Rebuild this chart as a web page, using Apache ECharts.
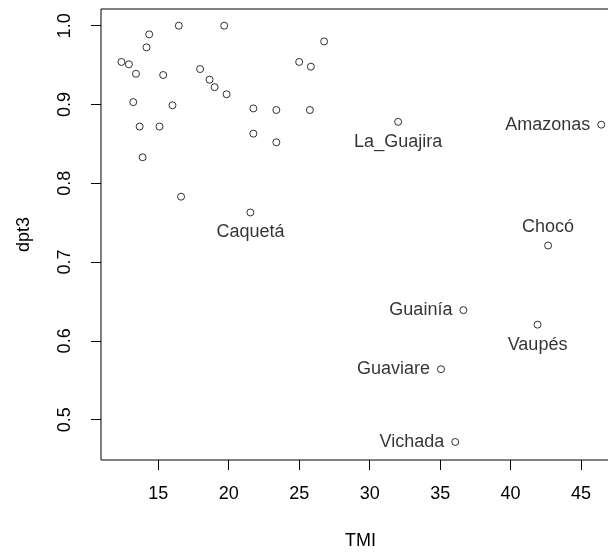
<!DOCTYPE html>
<html>
<head>
<meta charset="utf-8">
<script src="https://cdn.jsdelivr.net/npm/echarts@6/dist/echarts.min.js"></script>
<style>
html,body{margin:0;padding:0;background:#fff;}
#chart{width:608px;height:555px;}
</style>
</head>
<body>
<div id="chart"></div>
<script>
// Data
const tmi  = [16.46, 19.68, 14.36, 14.17, 26.77, 12.39, 12.92, 13.42, 15.35, 25.00,
              25.83, 17.97, 18.64, 19.00, 19.85, 13.23, 16.01, 21.75, 23.38, 25.76,
              13.68, 15.09, 21.75, 23.38, 13.89, 16.62, 21.54,
              32.02, 46.43, 42.66, 36.65, 41.91, 35.06, 36.07];
const dpt3 = [1.000, 1.000, 0.989, 0.9725, 0.980, 0.954, 0.951, 0.939, 0.9374, 0.954,
              0.948, 0.945, 0.9315, 0.922, 0.913, 0.903, 0.899, 0.895, 0.893, 0.893,
              0.872, 0.872, 0.863, 0.852, 0.833, 0.783, 0.763,
              0.878, 0.8744, 0.721, 0.639, 0.6206, 0.564, 0.4717];
const dept = ['', '', '', '', '', '', '', '', '', '',
              '', '', '', '', '', '', '', '', '', '',
              '', '', '', '', '', '', 'Caquetá',
              'La_Guajira', 'Amazonas', 'Chocó', 'Guainía', 'Vaupés', 'Guaviare', 'Vichada'];
const xTicks = [15, 20, 25, 30, 35, 40, 45];
const yTicks = [0.5, 0.6, 0.7, 0.8, 0.9, 1.0];
const xTitle = 'TMI';
const yTitle = 'dpt3';

// label placement (style, not data)
const labelPlace = {
  'Caquetá': 'bottom', 'La_Guajira': 'bottom', 'Amazonas': 'left', 'Chocó': 'top',
  'Guainía': 'left', 'Vaupés': 'bottom', 'Guaviare': 'left', 'Vichada': 'left'
};

const FONT = 'Liberation Sans, Arial, sans-serif';
const points = tmi.map((x, i) => {
  const n = dept[i];
  const p = { value: [x, dpt3[i]], name: n };
  if (n) {
    const pos = labelPlace[n];
    p.label = { show: true, position: pos, distance: pos === 'left' ? 7 : (pos === 'bottom' ? 7 : 5),
                formatter: n, color: '#000', fontFamily: FONT, fontSize: 18 };
  }
  return p;
});

const chart = echarts.init(document.getElementById('chart'), null, { renderer: 'canvas' });
chart.setOption({
  animation: false,
  backgroundColor: '#fff',
  grid: { left: 101, top: 9, width: 519, height: 451, containLabel: false, outerBoundsMode: 'none',
          show: true, borderColor: '#000', borderWidth: 1, backgroundColor: 'transparent' },
  xAxis: {
    type: 'value', min: 10.94, max: 47.76,
    name: xTitle, nameLocation: 'middle', nameGap: 72,
    nameTextStyle: { fontFamily: FONT, fontSize: 18, color: '#000' },
    splitLine: { show: false },
    axisLine: { show: false },
    axisTick: { show: true, inside: false, length: 10, lineStyle: { color: '#000' }, customValues: xTicks },
    axisLabel: { customValues: xTicks, margin: 25, fontFamily: FONT, fontSize: 18, color: '#000', formatter: v => String(v) }
  },
  yAxis: {
    type: 'value', min: 0.4488, max: 1.0212,
    name: yTitle, nameLocation: 'middle', nameGap: 68, nameRotate: 90,
    nameTextStyle: { fontFamily: FONT, fontSize: 18, color: '#000' },
    splitLine: { show: false },
    axisLine: { show: false },
    axisTick: { show: true, inside: false, length: 10, lineStyle: { color: '#000' }, customValues: yTicks },
    axisLabel: { customValues: yTicks, rotate: 90, margin: 27, fontFamily: FONT, fontSize: 18, color: '#000', formatter: v => v.toFixed(1) }
  },
  series: [{
    type: 'scatter',
    symbol: 'circle', symbolSize: 7,
    itemStyle: { color: 'rgba(255,255,255,0)', borderColor: '#000', borderWidth: 1 },
    label: { show: false, fontFamily: FONT, fontSize: 18, color: '#000' },
    emphasis: { disabled: true },
    data: points
  }]
});
</script>
</body>
</html>
